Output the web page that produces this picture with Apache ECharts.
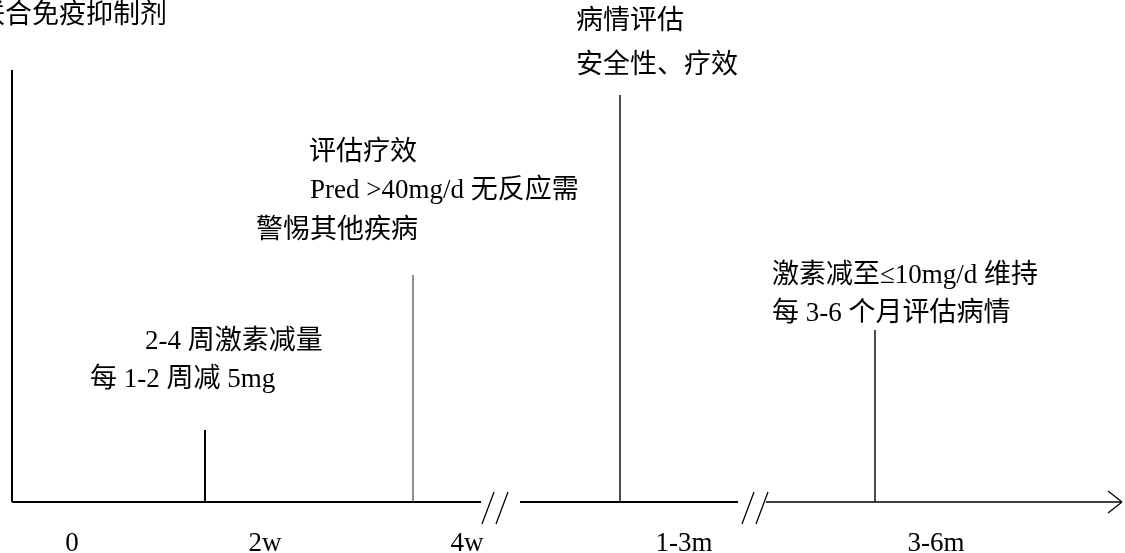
<!DOCTYPE html>
<html>
<head>
<meta charset="utf-8">
<script src="https://cdn.jsdelivr.net/npm/echarts@6/dist/echarts.min.js"></script>
<style>
  html, body { margin: 0; padding: 0; background: #fff; }
  #chart { width: 1125px; height: 553px; }
</style>
</head>
<body>
<div id="chart"></div>
<script>
// timeline stages along the bottom
const stageLabels = ['0', '2w', '4w', '1-3m', '3-6m'];
const stageX = [72, 265, 467, 684, 936];

// event markers (vertical lines rising from the axis)
const markerX = [12, 205, 413, 620, 875];
const markerTop = [70, 430, 275, 95, 330];

// note texts
const notes = [
  '联合免疫抑制剂',
  '2-4 周激素减量',
  '每 1-2 周减 5mg',
  '评估疗效',
  'Pred >40mg/d 无反应需',
  '警惕其他疾病',
  '病情评估',
  '安全性、疗效',
  '激素减至≤10mg/d 维持',
  '每 3-6 个月评估病情'
];
const noteX = [-22, 145, 90, 309, 310, 256, 576, 576, 772, 772];
const noteY = [16, 342, 380, 153, 191, 231, 22, 66, 276, 314];

// axis pieces with breaks
const axisY = 502;
const axisStart = [12, 520, 766];
const axisEnd = [481, 738, 1122];
const breakX = [482, 742];

const FONT = "'Liberation Serif', 'Noto Sans CJK SC', serif";

document.addEventListener('DOMContentLoaded', () => {
  const chart = echarts.init(document.getElementById('chart'));

  function segment(api, a, b, width, color) {
    const p1 = api.coord(a);
    const p2 = api.coord(b);
    return {
      type: 'line',
      shape: { x1: p1[0], y1: p1[1], x2: p2[0], y2: p2[1] },
      style: { stroke: color || '#000', lineWidth: width }
    };
  }

  const markerWidth = [2, 2, 1.2, 1.5, 1.5];
  const markerColor = ['#000', '#000', '#444', '#111', '#111'];

  const option = {
    animation: false,
    grid: { left: 0, right: 0, top: 0, bottom: 0 },
    xAxis: { type: 'value', min: 0, max: 1125, show: false },
    yAxis: { type: 'value', min: 0, max: 553, inverse: true, show: false },
    series: [
      {
        // axis line segments
        type: 'custom',
        data: axisStart.map((s, i) => [s, axisEnd[i]]),
        renderItem: (params, api) => {
          const i = params.dataIndex;
          const w = i === 2 ? 1.3 : 2.2;
          const children = [segment(api, [api.value(0), axisY], [api.value(1), axisY], w)];
          if (i === 2) {
            const tip = api.value(1);
            children.push(segment(api, [tip - 14, axisY - 11], [tip, axisY], 1.3));
            children.push(segment(api, [tip - 14, axisY + 11], [tip, axisY], 1.3));
          }
          return { type: 'group', children };
        }
      },
      {
        // break marks "//"
        type: 'custom',
        data: breakX.map(x => [x]),
        renderItem: (params, api) => {
          const x = api.value(0);
          return {
            type: 'group',
            children: [
              segment(api, [x, axisY + 22], [x + 12, axisY - 10], 1.3),
              segment(api, [x + 14, axisY + 22], [x + 26, axisY - 10], 1.3)
            ]
          };
        }
      },
      {
        // vertical markers
        type: 'custom',
        data: markerX.map((x, i) => [x, markerTop[i]]),
        renderItem: (params, api) => {
          const i = params.dataIndex;
          return segment(api, [api.value(0), api.value(1)], [api.value(0), axisY], markerWidth[i], markerColor[i]);
        }
      },
      {
        // stage labels under the axis
        type: 'custom',
        data: stageX.map(x => [x, 544]),
        renderItem: (params, api) => {
          const p = api.coord([api.value(0), api.value(1)]);
          return {
            type: 'text',
            style: {
              text: stageLabels[params.dataIndex],
              x: p[0], y: p[1],
              align: 'center', verticalAlign: 'middle',
              font: '27px ' + FONT, fill: '#000'
            }
          };
        }
      },
      {
        // notes
        type: 'custom',
        data: noteX.map((x, i) => [x, noteY[i]]),
        renderItem: (params, api) => {
          const p = api.coord([api.value(0), api.value(1)]);
          return {
            type: 'text',
            style: {
              text: notes[params.dataIndex],
              x: p[0], y: p[1],
              align: 'left', verticalAlign: 'middle',
              font: '27px ' + FONT, fill: '#000'
            }
          };
        }
      }
    ]
  };

  chart.setOption(option);
});
</script>
</body>
</html>
